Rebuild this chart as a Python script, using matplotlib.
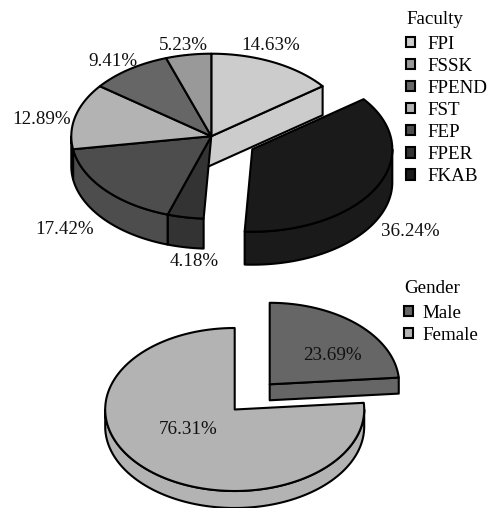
import numpy as np
import matplotlib
matplotlib.use("Agg")
import matplotlib.pyplot as plt
from matplotlib.legend import Legend
from matplotlib.patches import Polygon, Patch

plt.rcParams['font.family'] = ['Liberation Serif', 'DejaVu Serif']

# Survey composition
faculties = ["FPI", "FKAB", "FPER", "FEP", "FST", "FPEND", "FSSK"]
faculty_share = [14.63, 36.24, 4.18, 17.42, 12.89, 9.41, 5.23]
faculty_grey = ["#cccccc", "#1a1a1a", "#333333", "#4d4d4d", "#b3b3b3", "#666666", "#999999"]
faculty_legend = ["FPI", "FSSK", "FPEND", "FST", "FEP", "FPER", "FKAB"]

genders = ["Male", "Female"]
gender_share = [23.69, 76.31]
gender_grey = ["#666666", "#b3b3b3"]

# Layout, in figure pixels
faculty_offset = [(0, 0), (41, 13), (0, 0), (0, 0), (0, 0), (0, 0), (0, 0)]
faculty_depth = [29, 33, 30, 30, 30, 30, 30]
faculty_label_xy = [(271, 46), (410, 231), (194, 261), (65, 230), (42, 119), (113, 61), (183, 46)]
gender_offset = [(35, -25.2), (0, 0)]
gender_label_xy = [(332, 356), (188, 429)]

EDGE = dict(edgecolor="black", linewidth=1.5, joinstyle="round")
FONT = 13.7


def rim(cx, cy, rx, ry, a0, a1):
    """Points on the elliptical rim; angles run clockwise from 12 o'clock."""
    t = np.radians(np.linspace(a0, a1, max(int(abs(a1 - a0)) * 2, 2)))
    return np.column_stack([cx + rx * np.sin(t), cy - ry * np.cos(t)])


def draw_pie(ax, centre, rx, ry, shares, colours, offsets, depths, tuck=0.0):
    ends = np.cumsum(shares) * 3.6
    starts = ends - np.asarray(shares) * 3.6
    faces = []
    for a0, a1, col, (dx, dy), d in zip(starts, ends, colours, offsets, depths):
        cx, cy = centre[0] + dx, centre[1] + dy
        # cut face on the clockwise side, seen only when it turns towards the viewer;
        # tuck runs it slightly under the neighbouring top face
        if a1 < 180:
            outer = rim(cx, cy, rx, ry, a1, a1)[0]
            inner = np.array([cx, cy]) - tuck * (outer - (cx, cy))
            ax.add_patch(Polygon([inner, outer, outer + (0, d), inner + (0, d)],
                                 facecolor=col, **EDGE))
        # outer wall along the front half of the rim
        lo, hi = max(a0, 90), min(a1, 270)
        if lo < hi:
            arc = rim(cx, cy, rx, ry, lo, hi)
            ax.add_patch(Polygon(np.vstack([arc, arc[::-1] + (0, d)]),
                                 facecolor=col, **EDGE))
        faces.append(((cx, cy), rim(cx, cy, rx, ry, a0, a1), col))
    for apex, arc, col in faces:
        ax.add_patch(Polygon(np.vstack([apex, arc]), facecolor=col, **EDGE))


fig = plt.figure(figsize=(4.90, 5.08), dpi=100)
ax = fig.add_axes([0, 0, 1, 1])
ax.set_xlim(0, 490)
ax.set_ylim(508, 0)
ax.axis("off")

draw_pie(ax, (211.3, 136.2), 140, 82.5, faculty_share, faculty_grey, faculty_offset, faculty_depth, tuck=0.03)
draw_pie(ax, (234.7, 409.5), 129.5, 81.5, gender_share, gender_grey, gender_offset, [16, 17])

for v, (x, y) in zip(faculty_share, faculty_label_xy):
    ax.text(x, y, f"{v:.2f}%", fontsize=FONT, ha="center", va="center", color="#111111")
for v, (x, y) in zip(gender_share, gender_label_xy):
    ax.text(x, y, f"{v:.2f}%", fontsize=FONT, ha="center", va="center", color="#111111")


def add_legend(title, names, colours, anchor, text_pad):
    handles = [Patch(facecolor=c, edgecolor="black", linewidth=1.5, label=n)
               for n, c in zip(names, colours)]
    leg = Legend(ax, handles, names, title=title, loc="upper left",
                 bbox_to_anchor=anchor, bbox_transform=ax.transData,
                 frameon=False, fontsize=FONT, title_fontsize=FONT,
                 alignment="left", handlelength=0.48, handleheight=0.48,
                 handletextpad=text_pad, labelspacing=0.265, borderpad=0, borderaxespad=0)
    leg._legend_box.sep = 5.6
    ax.add_artist(leg)


legend_colour = dict(zip(faculties, faculty_grey))
add_legend("Faculty", faculty_legend, [legend_colour[n] for n in faculty_legend], (406, 11), 0.645)
add_legend("Gender", genders, gender_grey, (404, 280), 0.49)

fig.savefig("out.png", dpi=100)
